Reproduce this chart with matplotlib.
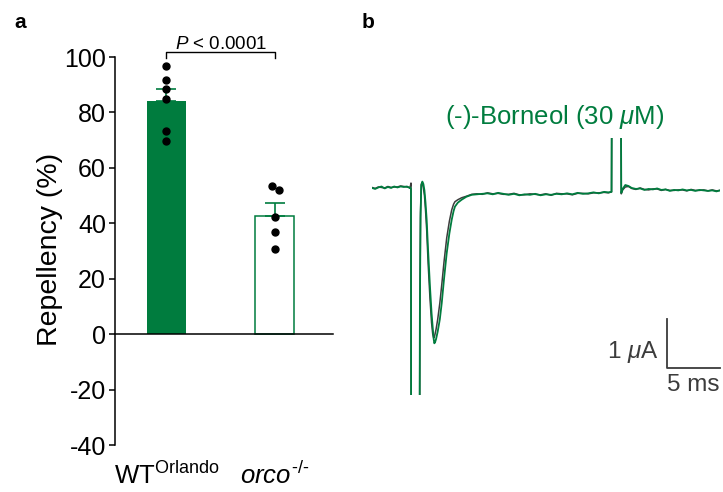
# repellency bars (a) + example current traces (b)
import numpy as np
import matplotlib.pyplot as plt

plt.rcParams['font.family'] = ['Liberation Sans', 'DejaVu Sans']
plt.rcParams['mathtext.fontset'] = 'custom'
plt.rcParams['mathtext.rm'] = 'Liberation Sans'
plt.rcParams['mathtext.it'] = 'Liberation Sans:italic'
plt.rcParams['axes.unicode_minus'] = False

GREEN = '#007c3e'
GREY = '#3c3c3c'

# --- panel a data ---
genotypes = [r'WT$^{\mathrm{Orlando}}$', r'$\mathit{orco}^{\mathit{\text{-/-}}}$']
mean_rep = [84.2, 42.7]
sem_rep = [4.1, 4.6]
wt_points = [96.7, 91.6, 88.6, 85.0, 73.4, 69.8]
orco_points = [53.4, 52.0, 42.3, 36.7, 30.6]
orco_jitter = [-0.03, 0.035, 0.0, 0.0, 0.0]
p_text = r'$P$ < 0.0001'

# --- panel b data: time (ms), current (uA) ---
trace_t = [0.0, 0.3, 0.6, 0.9, 1.2, 1.5, 1.8, 2.1, 2.4, 2.7, 3.0, 3.3, 3.55,
           3.62, 3.68, 3.70, 4.40, 4.46,
           4.52, 4.58, 4.65, 4.75, 4.85, 4.95, 5.05, 5.16, 5.30, 5.47, 5.62,
           5.73, 5.82, 5.88, 5.95, 6.05, 6.20, 6.40, 6.58, 6.80, 7.05, 7.30,
           7.52, 7.70, 7.83, 8.10, 8.46, 8.90, 9.41,
           9.9, 10.4, 10.9, 11.4, 11.9, 12.4, 12.9, 13.4, 13.9, 14.4, 14.9,
           15.4, 15.9, 16.4, 16.9, 17.4, 17.9, 18.4, 18.9, 19.4, 19.9, 20.4,
           20.9, 21.4, 21.9, 22.3, 22.6,
           22.64, 23.46, 23.52, 23.65, 23.9, 24.2,
           24.5, 24.9, 25.3, 25.7, 26.1, 26.5, 26.9, 27.3, 27.7, 28.1, 28.5,
           28.9, 29.3, 29.7, 30.1, 30.5, 30.9, 31.3, 31.7, 32.1, 32.5, 32.83]
trace_black = [0.01, -0.01, 0.02, 0.01, 0.00, 0.03, 0.01, 0.02, 0.02, 0.04, 0.03, 0.02, 0.01,
               0.03, 0.10, -8.0, -8.0, -8.0,
               -2.5, -0.5, 0.08, 0.10, 0.00, -0.15, -0.45, -0.85, -1.55, -2.25, -2.75,
               -2.98, -3.06, -3.04, -2.98, -2.88, -2.68, -2.35, -1.98, -1.50, -1.02, -0.68,
               -0.45, -0.33, -0.28, -0.24, -0.20, -0.17, -0.13,
               -0.12, -0.13, -0.10, -0.12, -0.11, -0.13, -0.13, -0.11, -0.14, -0.14, -0.12,
               -0.13, -0.14, -0.12, -0.15, -0.11, -0.12, -0.12, -0.14, -0.11, -0.11, -0.12,
               -0.10, -0.10, -0.09, -0.10, -0.08,
               3.0, 3.0, -0.12, -0.04, 0.02, 0.03,
               -0.01, -0.03, 0.00, -0.03, -0.04, -0.02, -0.02, -0.05, -0.03, -0.05, -0.05,
               -0.04, -0.04, -0.06, -0.03, -0.05, -0.05, -0.04, -0.06, -0.04, -0.06, -0.05]
trace_green = [0.00, -0.02, 0.01, 0.03, -0.01, 0.02, 0.00, 0.03, 0.01, 0.03, 0.02, 0.03, 0.00,
               0.01, -0.02, -8.0, -8.0, -8.0,
               -2.5, -0.6, 0.05, 0.13, 0.08, -0.05, -0.30, -0.65, -1.30, -2.01, -2.55,
               -2.85, -3.08, -3.17, -3.15, -3.08, -2.93, -2.68, -2.35, -1.85, -1.33, -0.93,
               -0.65, -0.47, -0.38, -0.30, -0.24, -0.18, -0.14,
               -0.13, -0.12, -0.11, -0.13, -0.10, -0.12, -0.14, -0.12, -0.15, -0.13, -0.14,
               -0.12, -0.15, -0.13, -0.14, -0.12, -0.13, -0.11, -0.13, -0.10, -0.12, -0.11,
               -0.09, -0.11, -0.08, -0.09, -0.08,
               3.0, 3.0, -0.10, -0.02, 0.06, 0.04,
               0.00, -0.02, -0.01, -0.04, -0.02, -0.03, -0.01, -0.04, -0.03, -0.06, -0.04,
               -0.05, -0.03, -0.05, -0.04, -0.06, -0.04, -0.05, -0.06, -0.05, -0.07, -0.05]
stim_label = r'(-)-Borneol (30 $\mu$M)'
bar_ua = 1.0
bar_ms = 5.0

fig = plt.figure(figsize=(7.23, 4.92), dpi=100)

# ---------------- a ----------------
ax = fig.add_axes([0.159, 0.0955, 0.3015, 0.7886])
x = np.arange(len(genotypes))
ax.bar(x[0], mean_rep[0], width=0.36, color=GREEN, edgecolor='none', zorder=2)
ax.bar(x[1], mean_rep[1], width=0.36, color='white', edgecolor=GREEN, linewidth=1.1, zorder=2)
ax.errorbar(x, mean_rep, yerr=[[0, 0], sem_rep], fmt='none', ecolor=GREEN,
            elinewidth=1.2, capsize=7, capthick=1.2, zorder=3)
ax.plot(np.full(len(wt_points), x[0]), wt_points, 'o', color='black', ms=5, zorder=4)
ax.plot(x[1] + np.array(orco_jitter), orco_points, 'o', color='black', ms=5, zorder=4)

ax.set_xlim(-0.475, 1.535)
ax.set_ylim(-40, 100)
ax.set_yticks(range(-40, 101, 20))
ax.tick_params(axis='y', labelsize=18, width=1.1, length=4.5, pad=2)
ax.set_xticks([])
for s in ['top', 'right']:
    ax.spines[s].set_visible(False)
ax.spines['left'].set_linewidth(1.1)
ax.spines['bottom'].set_position(('data', 0))
ax.spines['bottom'].set_linewidth(1.1)

for xi, lab in zip(x, genotypes):
    ax.annotate(lab, xy=(xi, 0), xycoords=('data', 'axes fraction'),
                xytext=(0, -28), textcoords='offset points',
                ha='center', va='baseline', fontsize=18.5, annotation_clip=False)

# significance bracket
ax.plot([x[0], x[0], x[1], x[1]], [99.6, 101.9, 101.9, 99.6], color='black', lw=1.0,
        clip_on=False)
ax.text(x.mean(), 102.9, p_text, ha='center', va='baseline', fontsize=13.5)

fig.text(50 / 723, 0.492, 'Repellency (%)', rotation=90, ha='center', va='center',
         fontsize=20.5)
fig.text(20 / 723, 1 - 22 / 492, 'a', fontsize=15, fontweight='bold', ha='center', va='center')
fig.text(368 / 723, 1 - 22 / 492, 'b', fontsize=15, fontweight='bold', ha='center', va='center')

# ---------------- b ----------------
bx = fig.add_axes([0.5145, 0.1972, 0.4813, 0.5224])
bx.plot(trace_t, trace_black, color=GREY, lw=1.1)
bx.plot(trace_t, trace_green, color=GREEN, lw=1.3)
bx.set_xlim(0, 32.83)
bx.set_ylim(-4.224, 1.02)
bx.axis('off')

bx.text(17.26, 1.45, stim_label, color=GREEN, ha='center', va='center', fontsize=18.5)

# scale bar
sx, sy = 27.83, -3.67
bx.plot([sx, sx, sx + bar_ms], [sy + bar_ua, sy, sy], color=GREY, lw=1.3, clip_on=False)
bx.text(sx - 0.8, sy + 0.32, r'1 $\mu$A', color=GREY, ha='right', va='center', fontsize=17.5)
bx.text(sx + bar_ms / 2, sy - 0.36, '5 ms', color=GREY, ha='center', va='center', fontsize=17.5)

fig.savefig('out.png', dpi=100)
